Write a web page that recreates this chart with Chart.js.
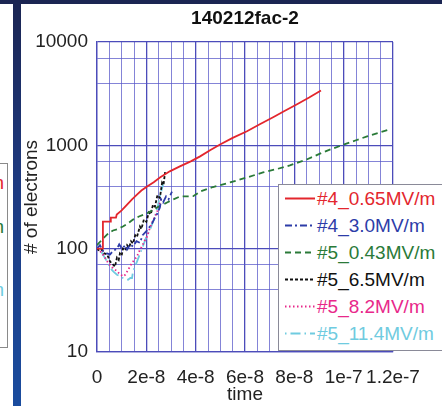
<!DOCTYPE html>
<html>
<head>
<meta charset="utf-8">
<script src="https://cdn.jsdelivr.net/npm/chart.js@4.4.1/dist/chart.umd.min.js"></script>
<style>
  body { margin: 0; width: 442px; height: 406px; overflow: hidden; background: #fff; position: relative;
         font-family: "Liberation Sans", Arial, sans-serif; }
  #topBar { position: absolute; left: 0; top: 0; width: 442px; height: 4px; background: #1b2552; z-index: 3; }
  #sideBar { position: absolute; left: 13px; top: 0; width: 8px; height: 406px; z-index: 3;
             background: linear-gradient(#1b2552, #1e3a80 45%, #1a4c9e); }
  #prevLegend { position: absolute; left: -100px; top: 163px; width: 106px; height: 183px;
                border: 1px solid #8a8a8a; background: #fff; overflow: hidden; }
  #prevLegend span { position: absolute; right: 3px; font-size: 19px; line-height: 20px; white-space: nowrap; }
  #chartBox { position: absolute; left: 0; top: 0; width: 442px; height: 406px; }
  #chartTitle { position: absolute; left: 97px; width: 296px; top: 8px; line-height: 20px; text-align: center;
                font-weight: bold; font-size: 19px; color: #111; }
  #legendBox { position: absolute; left: 278px; top: 184px; width: 180px; height: 165px; background: #fff;
               border: 1px solid #8a8a98; }
  .row { height: 27px; line-height: 27px; white-space: nowrap; font-size: 19px; padding-left: 6px; }
  .row svg { vertical-align: top; margin-right: 2px; }
</style>
</head>
<body>
<div id="topBar"></div>
<div id="sideBar"></div>
<div id="prevLegend">
  <span style="top:9px;color:#e3262d">MV/m</span>
  <span style="top:53px;color:#2a7a38">MV/m</span>
  <span style="top:116px;color:#6fcbe0">MV/m</span>
</div>
<div id="chartBox"><canvas id="mainChart" width="442" height="406"></canvas></div>
<div id="chartTitle">140212fac-2</div>
<div id="legendBox"></div>

<script>
// time [s], number of electrons
const run4_065 = [
  [0, 100], [2.2e-9, 100], [2.4e-9, 183], [5.3e-9, 183], [5.6e-9, 200], [7.7e-9, 200], [8.0e-9, 214],
  [1.0e-8, 235], [1.22e-8, 267], [1.42e-8, 300], [1.62e-8, 334], [1.8e-8, 365], [2.03e-8, 400],
  [2.3e-8, 440], [2.55e-8, 489], [2.95e-8, 560], [3.36e-8, 625], [3.8e-8, 700], [4.18e-8, 782],
  [4.6e-8, 900], [4.99e-8, 1020], [5.5e-8, 1180], [6.08e-8, 1370], [6.6e-8, 1600], [7.14e-8, 1870],
  [7.6e-8, 2150], [8.11e-8, 2500], [8.6e-8, 2900], [9.08e-8, 3400]
];
const run4_30 = [
  [0, 100], [1.2e-9, 108], [2.4e-9, 95], [4e-9, 90], [5.3e-9, 88], [6.5e-9, 95], [8.1e-9, 100],
  [9e-9, 110], [1.01e-8, 100], [1.15e-8, 108], [1.22e-8, 98], [1.35e-8, 110], [1.46e-8, 105],
  [1.6e-8, 118], [1.74e-8, 114], [1.85e-8, 135], [2.03e-8, 150], [2.15e-8, 165], [2.23e-8, 175],
  [2.35e-8, 200], [2.43e-8, 215], [2.55e-8, 250], [2.6e-8, 300], [2.68e-8, 280], [2.8e-8, 320],
  [2.9e-8, 300], [3.04e-8, 357]
];
const run5_043 = [
  [0, 108], [2.4e-9, 125], [4.5e-9, 140], [6.5e-9, 150], [8.5e-9, 155], [1.05e-8, 164], [1.25e-8, 175],
  [1.46e-8, 191], [1.7e-8, 205], [2.03e-8, 220], [2.25e-8, 235], [2.43e-8, 250], [2.84e-8, 280],
  [3.1e-8, 300], [3.36e-8, 320], [3.9e-8, 322], [4.18e-8, 357], [4.7e-8, 395], [5.39e-8, 437],
  [6.08e-8, 489], [6.73e-8, 547], [7.3e-8, 590], [7.82e-8, 640], [8.5e-8, 730], [9.04e-8, 830],
  [9.5e-8, 920], [9.97e-8, 1010], [1.05e-7, 1120], [1.095e-7, 1220], [1.14e-7, 1320], [1.188e-7, 1430]
];
const run5_65 = [
  [0, 100], [1e-9, 95], [2e-9, 98], [3e-9, 90], [4.1e-9, 88], [5.3e-9, 75], [6.1e-9, 72], [7.3e-9, 67],
  [8.1e-9, 82], [8.8e-9, 78], [9.3e-9, 90], [1.0e-8, 86], [1.05e-8, 100], [1.15e-8, 96], [1.22e-8, 108],
  [1.3e-8, 102], [1.38e-8, 118], [1.46e-8, 112], [1.55e-8, 135], [1.62e-8, 130], [1.74e-8, 164],
  [1.8e-8, 155], [1.9e-8, 191], [2.0e-8, 182], [2.1e-8, 224], [2.18e-8, 215], [2.27e-8, 267],
  [2.35e-8, 255], [2.45e-8, 330], [2.55e-8, 310], [2.64e-8, 437], [2.7e-8, 420], [2.76e-8, 550]
];
const run5_82 = [
  [0, 100], [1.2e-9, 95], [2.4e-9, 88], [3.5e-9, 80], [4.5e-9, 73], [6.1e-9, 66], [7e-9, 64], [8.1e-9, 60],
  [9.3e-9, 57], [1.05e-8, 54], [1.15e-8, 56], [1.22e-8, 60], [1.32e-8, 66], [1.42e-8, 73], [1.52e-8, 78],
  [1.62e-8, 84], [1.72e-8, 95], [1.82e-8, 105], [1.92e-8, 118], [2.03e-8, 131], [2.13e-8, 155],
  [2.23e-8, 179], [2.33e-8, 200], [2.43e-8, 224], [2.55e-8, 280], [2.62e-8, 310]
];
const run5_114 = [
  [0, 100], [1e-9, 96], [2e-9, 91], [3e-9, 83], [4.1e-9, 75], [5e-9, 68], [6.1e-9, 62], [7e-9, 59],
  [8.1e-9, 56], [9.3e-9, 54], [1.05e-8, 52], [1.15e-8, 51], [1.26e-8, 50], [1.35e-8, 52], [1.42e-8, 52],
  [1.46e-8, 60], [1.55e-8, 68], [1.62e-8, 75], [1.75e-8, 90], [1.86e-8, 105], [2.0e-8, 130],
  [2.15e-8, 153], [2.35e-8, 205], [2.45e-8, 250], [2.55e-8, 320], [2.68e-8, 420]
];

const seriesNames  = ['#4_0.65MV/m', '#4_3.0MV/m', '#5_0.43MV/m', '#5_6.5MV/m', '#5_8.2MV/m', '#5_11.4MV/m'];
const seriesData   = [run4_065, run4_30, run5_043, run5_65, run5_82, run5_114];
const seriesColors = ['#e3262d', '#2d3ca8', '#2a7a38', '#111111', '#e8288a', '#6fcbe0'];
const seriesDash   = [[], [7, 3, 2, 3], [6, 4], [3, 2], [1.5, 2.5], [1.5, 4, 10, 4]];

const xTickLabels = ['0', '2e-8', '4e-8', '6e-8', '8e-8', '1e-7', '1.2e-7'];
const yTickLabels = [10, 100, 1000, 10000];

// grid every 5e-9 s on x, 1..9 per decade on y
const xGridTimes = [];
for (let i = 0; i <= 24; i++) xGridTimes.push(i * 5 / 1e9);
const yGridValues = [];
for (let e = 1; e <= 3; e++) {
  for (let m = 1; m <= 9; m++) yGridValues.push(m * Math.pow(10, e));
}
yGridValues.push(10000);

const majorGrid = '#4c4cba';
const minorGrid = 'rgba(85, 85, 200, 0.72)';
const textColor = '#222';

Chart.defaults.font.family = '"Liberation Sans", Arial, sans-serif';

const datasets = seriesData.map((d, i) => ({
  label: seriesNames[i],
  data: d.map(p => ({ x: p[0], y: p[1] })),
  borderColor: seriesColors[i],
  borderWidth: 1.8,
  borderDash: seriesDash[i],
  pointRadius: 0,
  tension: 0,
  fill: false
}));

new Chart(document.getElementById('mainChart').getContext('2d'), {
  type: 'line',
  data: { datasets: datasets },
  options: {
    responsive: false,
    animation: false,
    layout: { padding: { top: 42, right: 49, left: 0, bottom: 0 } },
    plugins: { legend: { display: false }, tooltip: { enabled: false } },
    scales: {
      x: {
        type: 'linear',
        min: 0,
        max: 1.2e-7,
        afterBuildTicks: s => { s.ticks = xGridTimes.map(v => ({ value: v })); },
        afterFit: s => { s.height = 54; },
        ticks: {
          autoSkip: false, maxRotation: 0, minRotation: 0, padding: 14,
          color: textColor, font: { size: 19 },
          callback: (v, i) => (i % 4 === 0 ? xTickLabels[i / 4] : '')
        },
        grid: {
          drawTicks: false,
          color: c => (c.index % 4 === 0 ? majorGrid : minorGrid),
          lineWidth: c => (c.index % 4 === 0 ? 1.3 : 1)
        },
        border: { color: majorGrid, width: 1.3 },
        title: { display: true, text: 'time', color: textColor, font: { size: 19 }, padding: { top: 0, bottom: 0 } }
      },
      y: {
        type: 'logarithmic',
        min: 10,
        max: 10000,
        afterBuildTicks: s => { s.ticks = yGridValues.map(v => ({ value: v })); },
        afterFit: s => { s.width = 97; },
        ticks: {
          padding: 9, color: textColor, font: { size: 19 },
          callback: v => (yTickLabels.includes(v) ? String(v) : '')
        },
        grid: {
          drawTicks: false,
          color: c => (c.tick && yTickLabels.includes(c.tick.value) ? majorGrid : minorGrid),
          lineWidth: c => (c.tick && yTickLabels.includes(c.tick.value) ? 1.3 : 1)
        },
        border: { color: majorGrid, width: 1.3 },
        title: { display: true, text: '# of electrons', color: textColor, font: { size: 19 }, padding: { top: 20, bottom: 0 } }
      }
    }
  }
});

// legend box with line samples
const legendBox = document.getElementById('legendBox');
seriesNames.forEach((name, i) => {
  const row = document.createElement('div');
  row.className = 'row';
  row.style.color = seriesColors[i];
  const dash = seriesDash[i].length ? `stroke-dasharray="${seriesDash[i].join(',')}"` : '';
  row.innerHTML = `<svg width="30" height="27"><line x1="0" y1="13.5" x2="30" y2="13.5" stroke="${seriesColors[i]}" stroke-width="2" ${dash}/></svg>`;
  row.appendChild(document.createTextNode(name));
  legendBox.appendChild(row);
});
</script>
</body>
</html>
